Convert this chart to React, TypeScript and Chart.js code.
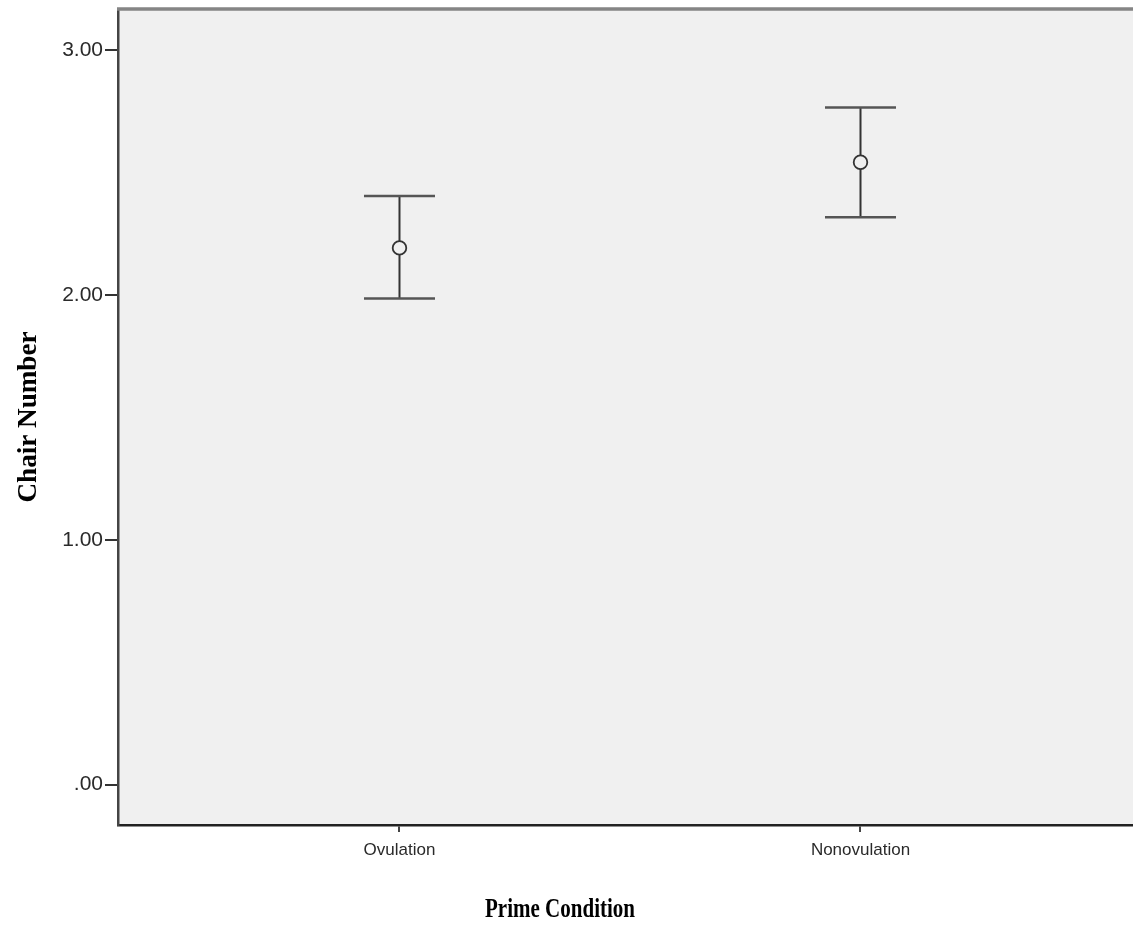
import React, { useEffect, useRef } from "react";
import { Chart, registerables } from "chart.js";

Chart.register(...registerables);

// ---- data ----
const categories: string[] = ["Ovulation", "Nonovulation"];
const categoryPositions: number[] = [1, 2];
const means: number[] = [2.192, 2.542];
const upperCI: number[] = [2.404, 2.766];
const lowerCI: number[] = [1.985, 2.317];
const yTickValues: number[] = [0, 1, 2, 3];
const yTickLabels: string[] = [".00", "1.00", "2.00", "3.00"];
const xAxisTitle = "Prime Condition";
const yAxisTitle = "Chair Number";

const W = 1133;
const H = 925;

const zeroPad = (scale: any) => {
  scale.paddingTop = 0;
  scale.paddingBottom = 0;
  scale.paddingLeft = 0;
  scale.paddingRight = 0;
};

const bgPlugin = {
  id: "bgPlugin",
  beforeDraw(chart: any) {
    const { ctx, chartArea } = chart;
    ctx.save();
    ctx.fillStyle = "#f0f0f0";
    ctx.fillRect(chartArea.left, chartArea.top, chartArea.right - chartArea.left, chartArea.bottom - chartArea.top);
    ctx.restore();
  },
  afterDraw(chart: any) {
    const { ctx, chartArea } = chart;
    ctx.save();
    ctx.strokeStyle = "#858585";
    ctx.lineWidth = 3.5;
    ctx.beginPath();
    ctx.moveTo(chartArea.left - 1, chartArea.top);
    ctx.lineTo(chartArea.right, chartArea.top);
    ctx.stroke();
    ctx.restore();
  },
};

const errorBarPlugin = {
  id: "errorBarPlugin",
  beforeDatasetsDraw(chart: any) {
    const { ctx } = chart;
    const xs = chart.scales.x;
    const ys = chart.scales.y;
    const capHalf = 35.5;
    ctx.save();
    categoryPositions.forEach((pos, i) => {
      const px = xs.getPixelForValue(pos);
      const pt = ys.getPixelForValue(upperCI[i]);
      const pb = ys.getPixelForValue(lowerCI[i]);
      ctx.strokeStyle = "#333";
      ctx.lineWidth = 2;
      ctx.beginPath();
      ctx.moveTo(px, pt);
      ctx.lineTo(px, pb);
      ctx.stroke();
      ctx.strokeStyle = "#555";
      ctx.lineWidth = 2.5;
      ctx.beginPath();
      ctx.moveTo(px - capHalf, pt);
      ctx.lineTo(px + capHalf, pt);
      ctx.moveTo(px - capHalf, pb);
      ctx.lineTo(px + capHalf, pb);
      ctx.stroke();
    });
    ctx.restore();
  },
};

const titlePlugin = {
  id: "titlePlugin",
  afterDraw(chart: any) {
    const { ctx } = chart;
    ctx.save();
    ctx.fillStyle = "#000";
    ctx.font = "bold 28px 'Liberation Serif'";
    ctx.textAlign = "center";
    ctx.textBaseline = "alphabetic";
    const wx = ctx.measureText(xAxisTitle).width;
    ctx.save();
    ctx.translate(560, 917);
    ctx.scale(150 / wx, 1);
    ctx.fillText(xAxisTitle, 0, 0);
    ctx.restore();
    const wy = ctx.measureText(yAxisTitle).width;
    ctx.save();
    ctx.translate(36, 417);
    ctx.rotate(-Math.PI / 2);
    ctx.scale(171 / wy, 1);
    ctx.fillText(yAxisTitle, 0, 0);
    ctx.restore();
    ctx.restore();
  },
};

export default function App() {
  const ref = useRef<HTMLCanvasElement | null>(null);
  useEffect(() => {
    if (!ref.current) return;
    const chart = new Chart(ref.current, {
      type: "scatter",
      data: {
        datasets: [
          {
            data: categoryPositions.map((x, i) => ({ x, y: means[i] })),
            pointRadius: 6.8,
            pointHoverRadius: 6.8,
            borderColor: "#333",
            backgroundColor: "#f0f0f0",
            borderWidth: 1.8,
            showLine: false,
          },
        ],
      },
      options: {
        animation: false,
        responsive: false,
        devicePixelRatio: 1,
        layout: { autoPadding: false, padding: { top: 9, left: 0, right: 0, bottom: 0 } },
        plugins: { legend: { display: false }, tooltip: { enabled: false }, title: { display: false } },
        scales: {
          x: {
            type: "linear",
            min: 0.3894,
            max: 2.5911,
            afterBuildTicks: (scale: any) => {
              scale.ticks = categoryPositions.map((v) => ({ value: v }));
            },
            afterFit: (scale: any) => {
              scale.height = H - 825;
              zeroPad(scale);
            },
            ticks: {
              callback: (v: any) => {
                const idx = categoryPositions.indexOf(Number(v));
                return idx >= 0 ? categories[idx] : "";
              },
              font: { family: "'Liberation Sans'", size: 17 },
              color: "#2a2a2a",
              padding: 8,
              maxRotation: 0,
              autoSkip: false,
            },
            grid: {
              drawOnChartArea: false,
              drawTicks: true,
              tickLength: 7,
              color: "#444",
              lineWidth: 2,
            },
            border: { display: true, color: "#222", width: 2.5 },
          },
          y: {
            type: "linear",
            min: -0.1654,
            max: 3.168,
            afterBuildTicks: (scale: any) => {
              scale.ticks = yTickValues.map((v) => ({ value: v }));
            },
            afterFit: (scale: any) => {
              scale.width = 118;
              zeroPad(scale);
            },
            ticks: {
              callback: (v: any) => {
                const idx = yTickValues.indexOf(Number(v));
                return idx >= 0 ? yTickLabels[idx] : "";
              },
              font: { family: "'Liberation Sans'", size: 21 },
              color: "#2a2a2a",
              padding: 2,
              autoSkip: false,
            },
            grid: {
              drawOnChartArea: false,
              drawTicks: true,
              tickLength: 13,
              color: "#333",
              lineWidth: 2,
            },
            border: { display: true, color: "#444", width: 2.5 },
          },
        },
      },
      plugins: [bgPlugin, errorBarPlugin, titlePlugin],
    } as any);
    return () => chart.destroy();
  }, []);
  return (
    <div style={{ position: "absolute", left: 0, top: 0, width: W, height: H, background: "#fff" }}>
      <canvas ref={ref} width={W} height={H} style={{ width: W, height: H, display: "block" }} />
    </div>
  );
}
